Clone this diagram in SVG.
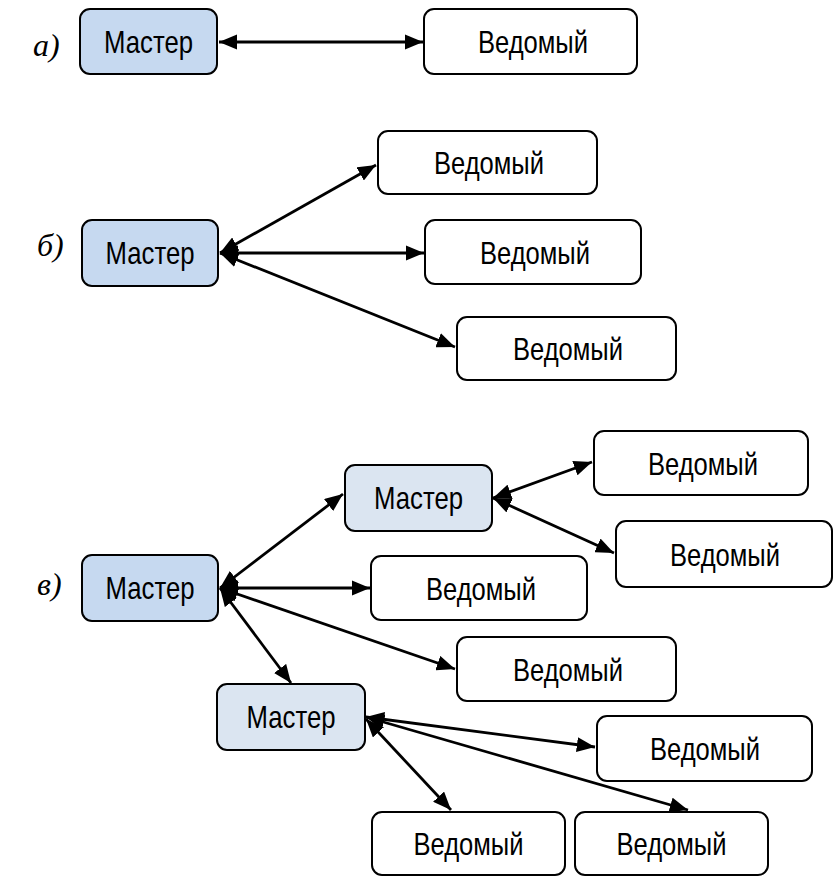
<svg xmlns="http://www.w3.org/2000/svg" width="834" height="877" viewBox="0 0 834 877">
  <style>
    .box { stroke: #000; stroke-width: 2; }
    .master { fill: #c6d9f0; }
    .sub { fill: #dbe5f1; }
    .slave { fill: #fff; }
    .t { font-family: "Liberation Sans", Arial, sans-serif; font-size: 32px; fill: #000; text-anchor: middle; }
    .lbl { font-family: "Liberation Serif", "Times New Roman", serif; font-style: italic; font-size: 32px; fill: #000; }
    .c line { stroke: #000; stroke-width: 2.8; marker-end: url(#ah); }
    .c line.both { marker-start: url(#ahs); }
  </style>
  <defs>
    <marker id="ah" viewBox="0 0 10 10" refX="10" refY="5" markerWidth="6.5" markerHeight="5.4" markerUnits="strokeWidth" orient="auto" preserveAspectRatio="none">
      <path d="M0,0 L10,5 L0,10 Z" fill="#000"/>
    </marker>
    <marker id="ahs" viewBox="0 0 10 10" refX="0" refY="5" markerWidth="6.5" markerHeight="5.4" markerUnits="strokeWidth" orient="auto" preserveAspectRatio="none">
      <path d="M10,0 L0,5 L10,10 Z" fill="#000"/>
    </marker>
  </defs>

  <!-- section labels -->
  <text class="lbl" x="33" y="56">а)</text>
  <text class="lbl" x="37" y="256">б)</text>
  <text class="lbl" x="37" y="595">в)</text>

  <!-- connectors -->
  <g id="connectors" class="c">
    <line class="both" x1="219" y1="42" x2="423" y2="42"/>

    <line class="both" x1="220" y1="253" x2="376" y2="165"/>
    <line class="both" x1="220" y1="253" x2="424" y2="253"/>
    <line class="both" x1="220" y1="253" x2="455" y2="347"/>

    <line class="both" x1="220" y1="588" x2="343" y2="494"/>
    <line class="both" x1="220" y1="588" x2="370" y2="588"/>
    <line class="both" x1="220" y1="588" x2="455" y2="669"/>
    <line class="both" x1="220" y1="588" x2="291" y2="683"/>

    <line class="both" x1="493" y1="498" x2="592" y2="462"/>
    <line class="both" x1="493" y1="498" x2="614" y2="553"/>

    <line class="both" x1="366" y1="717" x2="595" y2="747"/>
    <line class="both" x1="366" y1="717" x2="688" y2="810"/>
    <line class="both" x1="366" y1="719" x2="451" y2="810"/>
  </g>

  <!-- section a -->
  <g id="a-master"><rect class="box master" x="80" y="9" width="137" height="65" rx="10"/><text class="t" x="148.5" y="53" textLength="89" lengthAdjust="spacingAndGlyphs">Мастер</text></g>
  <g id="a-slave"><rect class="box slave" x="424" y="9" width="213" height="65" rx="10"/><text class="t" x="533" y="53" textLength="110" lengthAdjust="spacingAndGlyphs">Ведомый</text></g>

  <!-- section b -->
  <g id="b-master"><rect class="box master" x="82" y="220" width="136" height="66" rx="10"/><text class="t" x="150" y="264" textLength="89" lengthAdjust="spacingAndGlyphs">Мастер</text></g>
  <g id="b-slave1"><rect class="box slave" x="378" y="131" width="219" height="63" rx="10"/><text class="t" x="489" y="174" textLength="110" lengthAdjust="spacingAndGlyphs">Ведомый</text></g>
  <g id="b-slave2"><rect class="box slave" x="425" y="220" width="216" height="64" rx="10"/><text class="t" x="535" y="264" textLength="110" lengthAdjust="spacingAndGlyphs">Ведомый</text></g>
  <g id="b-slave3"><rect class="box slave" x="457" y="317" width="219" height="63" rx="10"/><text class="t" x="568" y="360" textLength="110" lengthAdjust="spacingAndGlyphs">Ведомый</text></g>

  <!-- section c -->
  <g id="c-master"><rect class="box master" x="82" y="555" width="136" height="66" rx="10"/><text class="t" x="150" y="599" textLength="89" lengthAdjust="spacingAndGlyphs">Мастер</text></g>
  <g id="c-sub1"><rect class="box sub" x="345" y="465" width="147" height="66" rx="10"/><text class="t" x="418.5" y="509" textLength="89" lengthAdjust="spacingAndGlyphs">Мастер</text></g>
  <g id="c-sub2"><rect class="box sub" x="217" y="684" width="148" height="66" rx="10"/><text class="t" x="291" y="728" textLength="89" lengthAdjust="spacingAndGlyphs">Мастер</text></g>
  <g id="c-slave1"><rect class="box slave" x="594" y="431" width="214" height="64" rx="10"/><text class="t" x="703" y="475" textLength="110" lengthAdjust="spacingAndGlyphs">Ведомый</text></g>
  <g id="c-slave2"><rect class="box slave" x="616" y="521" width="216" height="66" rx="10"/><text class="t" x="725" y="566" textLength="110" lengthAdjust="spacingAndGlyphs">Ведомый</text></g>
  <g id="c-slave3"><rect class="box slave" x="371" y="556" width="216" height="64" rx="10"/><text class="t" x="481" y="600" textLength="110" lengthAdjust="spacingAndGlyphs">Ведомый</text></g>
  <g id="c-slave4"><rect class="box slave" x="457" y="637" width="219" height="64" rx="10"/><text class="t" x="568" y="681" textLength="110" lengthAdjust="spacingAndGlyphs">Ведомый</text></g>
  <g id="c-slave5"><rect class="box slave" x="597" y="716" width="215" height="65" rx="10"/><text class="t" x="705" y="760" textLength="110" lengthAdjust="spacingAndGlyphs">Ведомый</text></g>
  <g id="c-slave6"><rect class="box slave" x="372" y="812" width="193" height="63" rx="10"/><text class="t" x="468.5" y="855" textLength="110" lengthAdjust="spacingAndGlyphs">Ведомый</text></g>
  <g id="c-slave7"><rect class="box slave" x="575" y="812" width="193" height="63" rx="10"/><text class="t" x="671.5" y="855" textLength="110" lengthAdjust="spacingAndGlyphs">Ведомый</text></g>
</svg>
